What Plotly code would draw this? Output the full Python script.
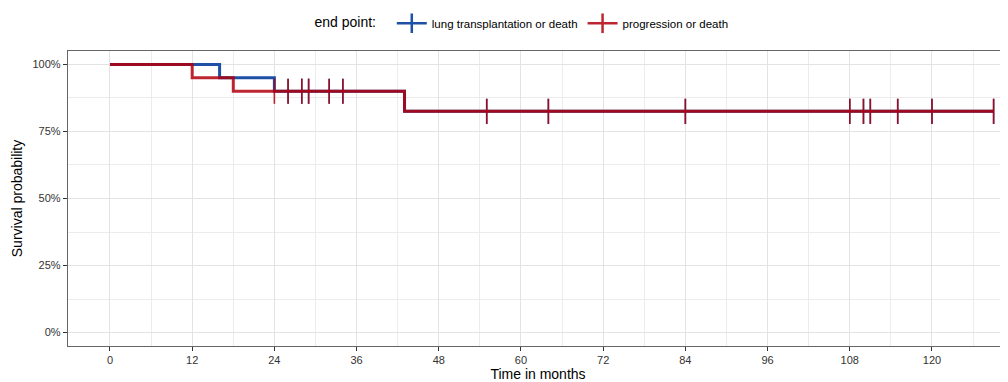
import plotly.graph_objects as go

# Kaplan-Meier step data (months, survival fraction)
lung_times = [0, 16, 24, 43, 129]
lung_surv = [1.0, 0.95, 0.90, 0.825, 0.825]
prog_times = [0, 12, 18, 43, 129]
prog_surv = [1.0, 0.95, 0.90, 0.825, 0.825]
# censoring times
lung_censor = [26, 28, 29, 32, 34, 55, 64, 84, 108, 110, 111, 115, 120, 129]
prog_censor = [24, 26, 28, 29, 32, 34, 55, 64, 84, 108, 110, 111, 115, 120, 129]

x_ticks = [0, 12, 24, 36, 48, 60, 72, 84, 96, 108, 120]
y_ticks = [0, 0.25, 0.5, 0.75, 1.0]
y_tick_labels = ["0%", "25%", "50%", "75%", "100%"]

BLUE = "rgb(30,80,165)"
RED = "rgb(178,0,12)"
RED_OPACITY = 0.85


def surv_at(times, surv, t):
    s = surv[0]
    for ti, si in zip(times, surv):
        if ti <= t:
            s = si
    return s


fig = go.Figure()

for name, times, surv, cens, col, op in [
    ("lung transplantation or death", lung_times, lung_surv, lung_censor, BLUE, 1.0),
    ("progression or death", prog_times, prog_surv, prog_censor, RED, RED_OPACITY),
]:
    fig.add_trace(go.Scatter(
        x=times, y=surv, mode="lines", line=dict(color=col, width=3, shape="hv"),
        opacity=op, showlegend=False, hoverinfo="skip"))
    fig.add_trace(go.Scatter(
        x=cens, y=[surv_at(times, surv, t) for t in cens], mode="markers",
        marker=dict(symbol="line-ns", size=18, line=dict(color=col, width=1.6)),
        opacity=op, showlegend=False, hoverinfo="skip"))
    fig.add_trace(go.Scatter(
        x=[None], y=[None], mode="lines+markers", name=name,
        line=dict(color=col, width=2.5), opacity=op,
        marker=dict(symbol="line-ns", size=14, line=dict(color=col, width=2.5))))

# page body has an 8px margin, so the figure is sized/offset to compensate
fig.update_layout(
    width=1000, height=374,
    margin=dict(l=60, r=0, t=43, b=36),
    paper_bgcolor="white", plot_bgcolor="white",
    font=dict(family="Liberation Sans, Arial, sans-serif", color="#1a1a1a"),
    legend=dict(
        orientation="h", xref="container", yref="container",
        x=0.515, xanchor="center", y=0.998, yanchor="top",
        title=dict(text="end point:  ", font=dict(size=14, color="black")),
        font=dict(size=11.5, color="black"), itemwidth=30,
    ),
    xaxis=dict(
        range=[-6.13, 131.1], tickvals=x_ticks, ticks="outside", ticklen=4,
        tickcolor="#333", tickfont=dict(size=11, color="#333"),
        showgrid=True, gridcolor="#e3e3e3", gridwidth=1,
        minor=dict(dtick=6, tick0=0, showgrid=True, gridcolor="#ececec", gridwidth=0.8),
        showline=True, linecolor="#666", linewidth=1.3, mirror=True,
        zeroline=False, automargin=False,
        title=dict(text="Time in months", font=dict(size=14, color="black"), standoff=2),
    ),
    yaxis=dict(
        range=[-0.05, 1.05], tickvals=y_ticks, ticktext=y_tick_labels,
        ticks="outside", ticklen=4, tickcolor="#333",
        tickfont=dict(size=11, color="#333"),
        showgrid=True, gridcolor="#e3e3e3", gridwidth=1,
        minor=dict(dtick=0.125, tick0=0, showgrid=True, gridcolor="#ececec", gridwidth=0.8),
        showline=True, linecolor="#666", linewidth=1.3, mirror=False,
        zeroline=False, automargin=False,
        title=dict(text="Survival probability", font=dict(size=14, color="black"), standoff=6),
    ),
)

fig.write_html("out.html")
